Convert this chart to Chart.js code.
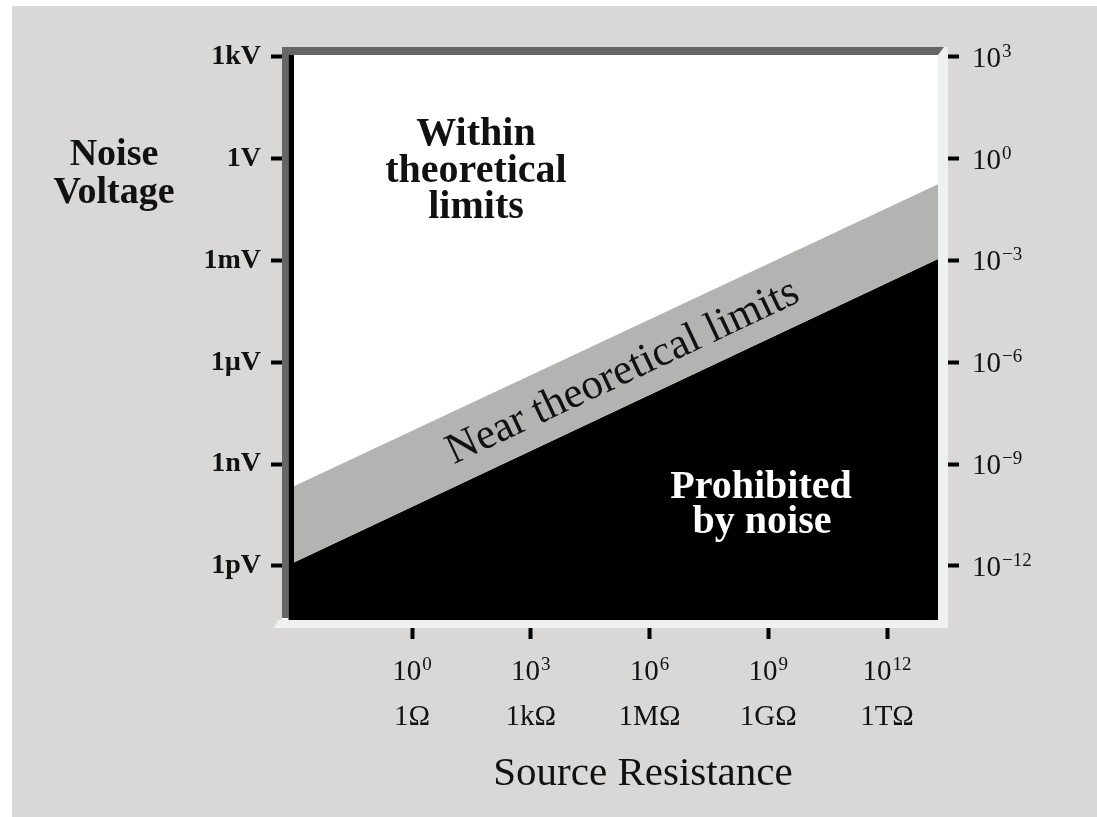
<!DOCTYPE html>
<html><head><meta charset="utf-8">
<script src="https://cdn.jsdelivr.net/npm/chart.js@4.4.1/dist/chart.umd.min.js"></script>
<style>html,body{margin:0;padding:0;background:#dad7d7;overflow:hidden}</style>
</head><body>
<canvas id="c" width="1097" height="817"></canvas>
<script>
// Values are decade exponents (log10)
const resistanceExp = [-3.0, 13.3];          // x extent of the shaded regions (log10 ohms)
const nearLimitExp = [-9.66, -0.75];         // upper edge of "near theoretical limits" band (log10 volts)
const noiseFloorExp = [-11.91, -2.95];       // thermal noise floor (log10 volts)

const voltageTickValues = [3, 0, -3, -6, -9, -12];
const voltageLabels = ['1kV', '1V', '1mV', '1\u00B5V', '1nV', '1pV'];
const voltagePowerExps = ['3', '0', '\u22123', '\u22126', '\u22129', '\u221212'];

const resistanceTickValues = [0, 3, 6, 9, 12];
const resistancePowerExps = ['0', '3', '6', '9', '12'];
const resistanceLabels = ['1\u03A9', '1k\u03A9', '1M\u03A9', '1G\u03A9', '1T\u03A9'];

const SERIF = "'Liberation Serif', 'DejaVu Serif', serif";

const toPoints = (xs, ys) => xs.map((x, i) => ({x: x, y: ys[i]}));

// draws "10" with a raised exponent; anchor: 'left' or 'center'
function drawPower(ctx, exp, x, baseline, anchor) {
  ctx.font = '29px ' + SERIF;
  const wb = ctx.measureText('10').width;
  ctx.font = '19px ' + SERIF;
  const we = ctx.measureText(exp).width;
  const start = anchor === 'center' ? x - (wb + we + 1) / 2 : x;
  ctx.textAlign = 'left';
  ctx.textBaseline = 'alphabetic';
  ctx.font = '29px ' + SERIF;
  ctx.fillText('10', start, baseline);
  ctx.font = '19px ' + SERIF;
  ctx.fillText(exp, start + wb + 1, baseline - 10);
}

const decor = {
  id: 'decor',
  beforeDraw(chart) {
    const {ctx, chartArea: a} = chart;
    ctx.save();
    ctx.fillStyle = '#dad7d7';
    ctx.fillRect(0, 0, chart.width, chart.height);
    ctx.fillStyle = '#ffffff';
    ctx.fillRect(0, 0, chart.width, 6);
    ctx.fillRect(0, 0, 12, chart.height);
    ctx.fillRect(a.left, a.top, a.right - a.left, a.bottom - a.top);
    ctx.restore();
  },
  afterDatasetsDraw(chart) {
    const {ctx, chartArea: a} = chart;
    ctx.save();
    // right & bottom light strips
    ctx.fillStyle = '#eff1f0';
    ctx.fillRect(a.right - 10, a.top, 10, a.bottom - a.top);
    ctx.beginPath();
    ctx.moveTo(a.left - 8, a.bottom);
    ctx.lineTo(a.left - 4, a.bottom - 8);
    ctx.lineTo(a.right, a.bottom - 8);
    ctx.lineTo(a.right, a.bottom);
    ctx.closePath();
    ctx.fill();
    // top & left dark strips
    ctx.fillStyle = '#666666';
    ctx.beginPath();
    ctx.moveTo(a.left, a.top);
    ctx.lineTo(a.right - 4, a.top);
    ctx.lineTo(a.right - 10, a.top + 8);
    ctx.lineTo(a.left, a.top + 8);
    ctx.closePath();
    ctx.fill();
    ctx.fillRect(a.left, a.top, 6.5, a.bottom - a.top - 10);
    ctx.fillStyle = '#000000';
    ctx.fillRect(a.left + 6.5, a.top + 8, 5.5, a.bottom - a.top - 16);

    // region labels
    ctx.textAlign = 'center';
    ctx.textBaseline = 'alphabetic';
    ctx.fillStyle = '#111111';
    ctx.font = 'bold 40px ' + SERIF;
    ctx.fillText('Within', 476, 145);
    ctx.fillText('theoretical', 476, 182);
    ctx.fillText('limits', 476, 218);

    ctx.fillStyle = '#ffffff';
    ctx.fillText('Prohibited', 761, 498);
    ctx.fillText('by noise', 762, 533);

    // rotated band label, aligned with the band
    const xs = chart.scales.x, ys = chart.scales.y;
    const x0 = xs.getPixelForValue(resistanceExp[0]);
    const x1 = xs.getPixelForValue(resistanceExp[1]);
    const u0 = ys.getPixelForValue(nearLimitExp[0]), u1 = ys.getPixelForValue(nearLimitExp[1]);
    const l0 = ys.getPixelForValue(noiseFloorExp[0]), l1 = ys.getPixelForValue(noiseFloorExp[1]);
    const ang = Math.atan2(((u1 + l1) - (u0 + l0)) / 2, x1 - x0);
    const cx = 622;
    const t = (cx - x0) / (x1 - x0);
    const cy = ((u0 + (u1 - u0) * t) + (l0 + (l1 - l0) * t)) / 2;
    ctx.translate(cx, cy);
    ctx.rotate(ang);
    ctx.fillStyle = '#111111';
    ctx.font = '43px ' + SERIF;
    ctx.fillText('Near theoretical limits', 0, 13.6);
    ctx.restore();
  },
  afterDraw(chart) {
    const {ctx, chartArea: a} = chart;
    ctx.save();
    ctx.fillStyle = '#111111';
    // power-of-ten labels placed at the scales' tick positions
    const y2 = chart.scales.y2, xs = chart.scales.x;
    voltageTickValues.forEach((v, i) => {
      drawPower(ctx, voltagePowerExps[i], a.right + 24, y2.getPixelForValue(v) + 10, 'left');
    });
    resistanceTickValues.forEach((v, i) => {
      drawPower(ctx, resistancePowerExps[i], xs.getPixelForValue(v), a.bottom + 52, 'center');
    });

    ctx.textAlign = 'center';
    ctx.textBaseline = 'alphabetic';
    ctx.font = 'bold 38px ' + SERIF;
    ctx.fillText('Noise', 114, 165);
    ctx.fillText('Voltage', 114, 203);
    ctx.font = '41px ' + SERIF;
    ctx.fillText('Source Resistance', 643, 785);
    ctx.restore();
  }
};

const tickGrid = {
  display: true,
  drawOnChartArea: false,
  drawTicks: true,
  tickLength: 11,
  tickWidth: 4,
  tickColor: '#000000'
};

new Chart(document.getElementById('c'), {
  type: 'scatter',
  data: {
    datasets: [
      {
        label: 'Near theoretical limits',
        data: toPoints(resistanceExp, nearLimitExp),
        showLine: true,
        borderWidth: 0,
        borderColor: 'rgba(0,0,0,0)',
        pointRadius: 0,
        backgroundColor: '#b3b4b2',
        fill: '+1'
      },
      {
        label: 'Prohibited by noise',
        data: toPoints(resistanceExp, noiseFloorExp),
        showLine: true,
        borderWidth: 0,
        borderColor: 'rgba(0,0,0,0)',
        pointRadius: 0,
        backgroundColor: '#000000',
        fill: 'start'
      }
    ]
  },
  options: {
    responsive: false,
    animation: false,
    events: [],
    layout: {padding: {top: 47, left: 0, right: 0, bottom: 0}},
    plugins: {legend: {display: false}, tooltip: {enabled: false}, title: {display: false}},
    scales: {
      x: {
        type: 'linear',
        position: 'bottom',
        min: -3.285,
        max: 13.54,
        afterBuildTicks: s => { s.ticks = resistanceTickValues.map(v => ({value: v})); },
        afterFit: s => { s.height = 189; },
        grid: tickGrid,
        border: {display: false},
        ticks: {
          autoSkip: false,
          maxRotation: 0,
          minRotation: 0,
          padding: 7,
          color: '#111111',
          font: {family: SERIF, size: 29, lineHeight: 1.64},
          callback: (v, i) => [' ', resistanceLabels[i]]
        }
      },
      y: {
        type: 'linear',
        position: 'left',
        min: -13.83,
        max: 3.29,
        afterBuildTicks: s => { s.ticks = voltageTickValues.map(v => ({value: v})); },
        afterFit: s => { s.width = 282; },
        grid: tickGrid,
        border: {display: false},
        ticks: {
          autoSkip: false,
          padding: 10,
          color: '#111111',
          font: {family: SERIF, size: 28, weight: 'bold'},
          callback: (v, i) => voltageLabels[i]
        }
      },
      y2: {
        type: 'linear',
        position: 'right',
        min: -13.83,
        max: 3.29,
        afterBuildTicks: s => { s.ticks = voltageTickValues.map(v => ({value: v})); },
        afterFit: s => { s.width = 149; },
        grid: tickGrid,
        border: {display: false},
        ticks: {
          autoSkip: false,
          padding: 13,
          color: '#111111',
          font: {family: SERIF, size: 29},
          callback: () => ''
        }
      }
    }
  },
  plugins: [decor]
});
</script>
</body></html>
